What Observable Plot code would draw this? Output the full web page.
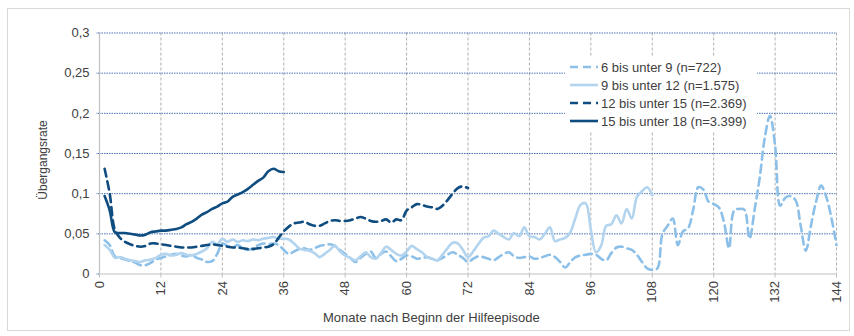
<!DOCTYPE html>
<html><head><meta charset="utf-8">
<script src="https://cdn.jsdelivr.net/npm/d3@7"></script>
<script src="https://cdn.jsdelivr.net/npm/@observablehq/plot@0.6"></script>
<style>
body{margin:0;background:#fff;}
#wrap{position:relative;width:854px;height:336px;font-family:"Liberation Sans",Arial,sans-serif;color:#404040;overflow:hidden}
#frame{position:absolute;left:7px;top:8px;width:843px;height:323px;border:1px solid #d9d9d9;box-sizing:border-box;pointer-events:none}
#legend{position:absolute;left:565px;top:56px;width:192px;height:75px;background:#fff;}
.row{position:absolute;left:5px;height:18px;display:flex;align-items:center;font-size:13px;white-space:nowrap;color:#404040}
.row svg{margin-right:3px}
#ytitle{position:absolute;left:43px;top:160px;transform:translate(-50%,-50%) rotate(-90deg);font-size:12px;white-space:nowrap}
#xtitle{position:absolute;left:323px;top:310px;font-size:13px;white-space:nowrap}
</style></head>
<body>
<div id="wrap">
  <div id="chart"></div>
  <div id="legend"></div>
  <div id="ytitle">Übergangsrate</div>
  <div id="xtitle">Monate nach Beginn der Hilfeepisode</div>
  <div id="frame"></div>
</div>
<script>
// ---- data ----
const seriesNames = ["6 bis unter 9 (n=722)", "9 bis unter 12 (n=1.575)", "12 bis unter 15 (n=2.369)", "15 bis unter 18 (n=3.399)"];

// values for months 1, 2, 3, ...
const age6to9 = [
  0.042,0.036,0.022,0.020,0.018,0.016,0.014,0.011,0.011,0.014,0.018,0.020,
  0.022,0.024,0.025,0.023,0.022,0.024,0.020,0.018,0.015,0.016,0.025,0.038,
  0.035,0.033,0.036,0.032,0.030,0.032,0.036,0.038,0.037,0.038,0.036,0.030,
  0.025,0.028,0.031,0.032,0.030,0.032,0.035,0.036,0.037,0.035,0.030,0.025,
  0.020,0.015,0.020,0.025,0.028,0.020,0.025,0.028,0.022,0.016,0.019,0.023,
  0.022,0.019,0.020,0.021,0.019,0.017,0.020,0.024,0.027,0.024,0.020,0.015,
  0.019,0.022,0.021,0.019,0.017,0.021,0.025,0.027,0.022,0.020,0.021,0.022,
  0.019,0.020,0.022,0.024,0.021,0.015,0.008,0.015,0.021,0.023,0.024,0.025,
  0.024,0.019,0.017,0.026,0.033,0.034,0.032,0.030,0.024,0.015,0.007,0.005,
  0.007,0.050,0.060,0.069,0.036,0.053,0.057,0.080,0.108,0.105,0.090,0.087,
  0.083,0.065,0.032,0.079,0.081,0.080,0.044,0.080,0.120,0.170,0.197,0.160,
  0.085,0.095,0.097,0.092,0.060,0.029,0.060,0.090,0.110,0.096,0.070,0.036
];
const age9to12 = [
  0.036,0.030,0.020,0.021,0.019,0.017,0.016,0.015,0.017,0.018,0.020,0.024,
  0.025,0.023,0.024,0.026,0.024,0.023,0.025,0.028,0.032,0.040,0.037,0.044,
  0.040,0.043,0.040,0.042,0.041,0.043,0.042,0.044,0.045,0.046,0.044,0.044,
  0.043,0.038,0.032,0.030,0.029,0.026,0.021,0.025,0.030,0.035,0.028,0.023,
  0.020,0.017,0.022,0.027,0.021,0.019,0.026,0.034,0.030,0.025,0.023,0.028,
  0.035,0.031,0.027,0.021,0.019,0.017,0.024,0.032,0.039,0.038,0.030,0.021,
  0.028,0.037,0.045,0.047,0.054,0.050,0.046,0.043,0.051,0.047,0.058,0.047,
  0.046,0.043,0.050,0.058,0.041,0.043,0.045,0.052,0.070,0.086,0.088,0.055,
  0.027,0.035,0.060,0.062,0.073,0.063,0.081,0.069,0.096,0.103,0.108,0.098
];
const age12to15 = [
  0.131,0.100,0.055,0.045,0.040,0.037,0.035,0.034,0.035,0.038,0.038,0.037,
  0.036,0.035,0.034,0.033,0.033,0.033,0.034,0.035,0.036,0.037,0.036,0.035,
  0.034,0.033,0.033,0.032,0.031,0.031,0.032,0.033,0.034,0.037,0.045,0.053,
  0.059,0.063,0.064,0.065,0.062,0.060,0.060,0.063,0.066,0.067,0.066,0.066,
  0.067,0.069,0.071,0.069,0.066,0.065,0.066,0.068,0.064,0.068,0.067,0.079,
  0.083,0.087,0.086,0.084,0.083,0.081,0.085,0.092,0.100,0.107,0.109,0.107
];
const age15to18 = [
  0.097,0.079,0.052,0.051,0.051,0.050,0.049,0.048,0.049,0.052,0.053,0.054,
  0.054,0.055,0.056,0.058,0.062,0.065,0.069,0.074,0.077,0.081,0.084,0.088,
  0.090,0.096,0.099,0.102,0.106,0.111,0.116,0.120,0.128,0.131,0.128,0.127
];
const seriesValues = [age6to9, age9to12, age12to15, age15to18];

const xTicks = [0,12,24,36,48,60,72,84,96,108,120,132,144];
const yTicks = [0,0.05,0.1,0.15,0.2,0.25,0.3];
const yTickLabels = ["0","0,05","0,1","0,15","0,2","0,25","0,3"];

// ---- styles ----
const seriesColors = ["#8dc0e8", "#b2d4ef", "#0f4c7f", "#0f4c7f"];
const seriesDash = ["8,5", null, "8,5", null];

// ---- build table ----
const rows = [];
seriesValues.forEach((vals, s) => vals.forEach((v, i) => rows.push({series: seriesNames[s], month: i + 1, value: v})));

const lineMarks = seriesNames.map((name, s) =>
  Plot.line(rows.filter(d => d.series === name), {
    x: "month", y: "value",
    stroke: seriesColors[s], strokeWidth: 2.6,
    strokeDasharray: seriesDash[s] || undefined,
    curve: "catmull-rom", strokeLinejoin: "round"
  })
);

const chart = Plot.plot({
  width: 854, height: 336,
  marginLeft: 99, marginRight: 18, marginTop: 32.5, marginBottom: 62.5,
  style: {fontFamily: "'Liberation Sans', Arial, sans-serif", fontSize: "13px", color: "#404040", background: "transparent"},
  x: {domain: [0, 144]},
  y: {domain: [0, 0.3]},
  marks: [
    Plot.gridX(xTicks.slice(1), {stroke: "#b0b0b0", strokeOpacity: 1, strokeDasharray: "3,2", strokeWidth: 1}),
    Plot.gridY(yTicks.slice(1), {stroke: "#4a72b8", strokeOpacity: 1, strokeDasharray: "1.5,1", strokeWidth: 1}),
    Plot.ruleX([0], {stroke: "#bfbfbf", strokeWidth: 1.2}),
    Plot.ruleY([0], {stroke: "#bfbfbf", strokeWidth: 1.2}),
    ...lineMarks,
    Plot.axisY(yTicks, {tickFormat: (d, i) => yTickLabels[i], tickSize: 3, tickPadding: 7, fontSize: 13, stroke: "#4a72b8", strokeDasharray: "1.5,1", label: null}),
    Plot.axisX(xTicks, {tickRotate: -90, tickSize: 4, tickPadding: 3, fontSize: 13, stroke: "#bfbfbf", label: null})
  ]
});
document.getElementById("chart").appendChild(chart);

// ---- legend ----
const legend = document.getElementById("legend");
seriesNames.forEach((name, s) => {
  const row = document.createElement("div");
  row.className = "row";
  row.style.top = (2 + s * 18) + "px";
  const dash = seriesDash[s] ? `stroke-dasharray="${seriesDash[s]}"` : "";
  row.innerHTML = `<svg width="28" height="10"><line x1="0" y1="5" x2="28" y2="5" stroke="${seriesColors[s]}" stroke-width="2.6" ${dash}/></svg><span>${name}</span>`;
  legend.appendChild(row);
});
</script>
</body></html>
